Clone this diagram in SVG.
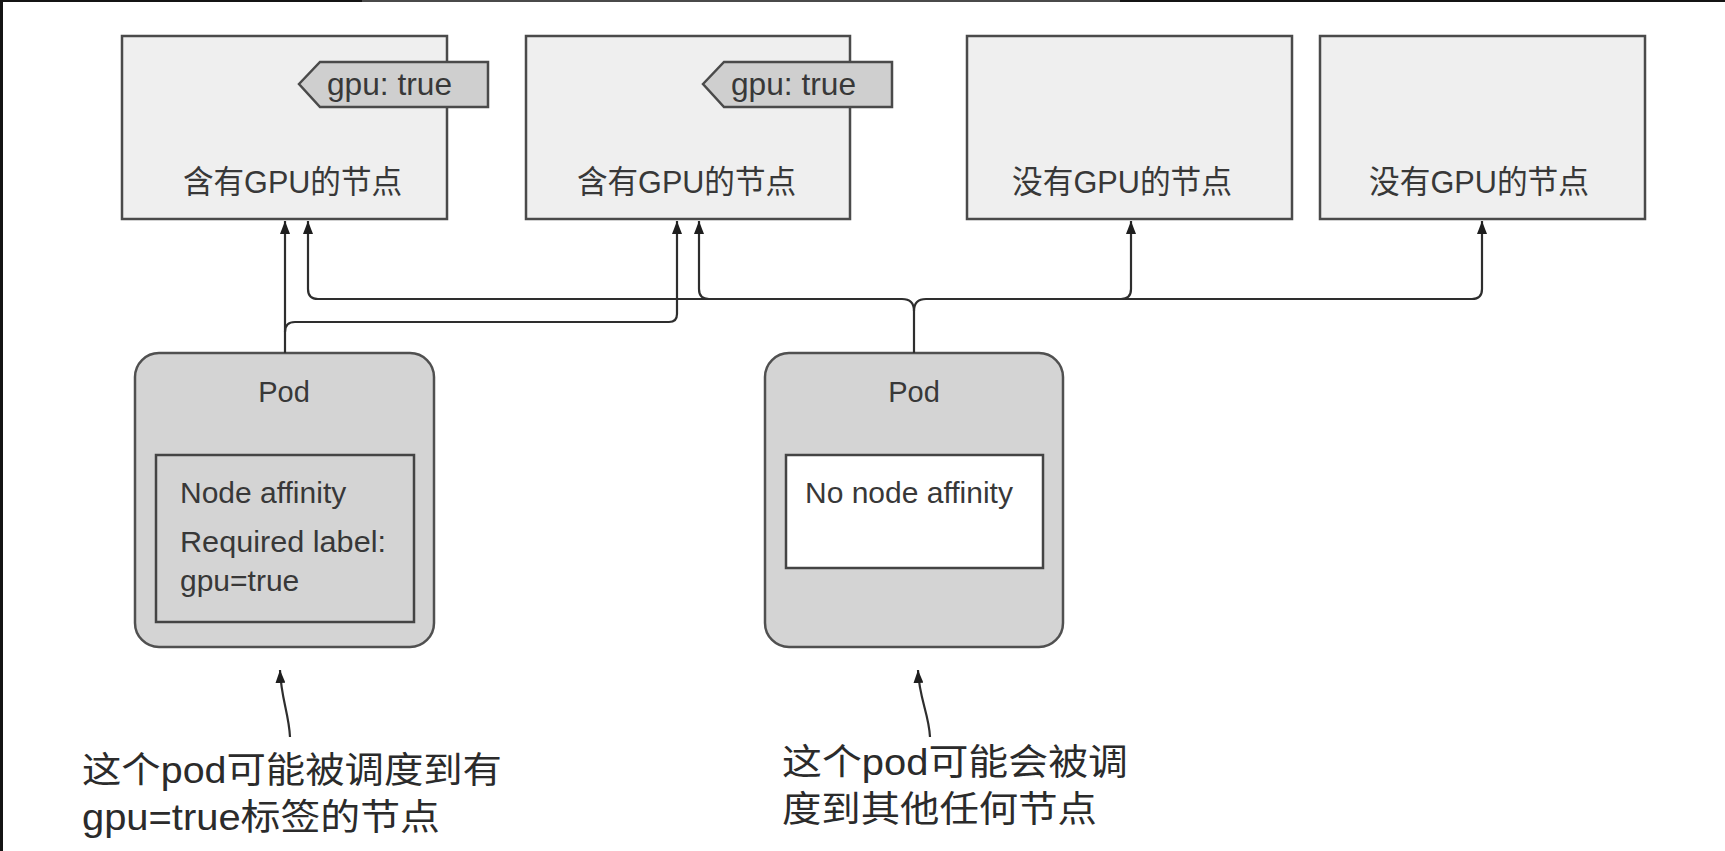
<svg xmlns="http://www.w3.org/2000/svg" width="1725" height="851" viewBox="0 0 1725 851">
<defs>
<marker id="ah" viewBox="0 0 13 10" refX="13" refY="5" markerWidth="13" markerHeight="10" markerUnits="userSpaceOnUse" orient="auto">
<path d="M0,0 L13,5 L0,10 z" fill="#1e1e1e"/>
</marker>
<style>
.node{fill:#efefef;stroke:#4a4a4a;stroke-width:2.5}
.tag{fill:#cfcfcf;stroke:#4a4a4a;stroke-width:2.5}
.pod{fill:#d4d4d4;stroke:#505050;stroke-width:2.5}
.inner{stroke:#444;stroke-width:2.5}
.t{font-family:"Liberation Sans","Noto Sans CJK SC",sans-serif;fill:#383838}
.cn{font-family:"Liberation Sans","Noto Sans CJK SC",sans-serif;fill:#2b2b2b;font-size:36px}
.conn path{fill:none;stroke:#2e2e2e;stroke-width:2.2}
</style>
</defs>
<rect width="1725" height="851" fill="#ffffff"/>
<rect x="0" y="0" width="3" height="851" fill="#141414"/>
<rect x="0" y="0" width="362" height="2" fill="#141414"/>
<rect x="362" y="0" width="758" height="2" fill="#4a4a4a"/>
<rect x="1120" y="0" width="605" height="2" fill="#141414"/>

<g id="node-gpu-1">
<rect class="node" x="122" y="36" width="325" height="183"/>
<polygon class="tag" points="299,84 320,62 488,62 488,107 320,107"/>
<text class="t" x="327" y="95" font-size="32" textLength="125" lengthAdjust="spacingAndGlyphs">gpu: true</text>
<text class="t" x="183" y="193" font-size="32" textLength="219" lengthAdjust="spacingAndGlyphs">含有GPU的节点</text>
</g>
<g id="node-gpu-2">
<rect class="node" x="526" y="36" width="324" height="183"/>
<polygon class="tag" points="703,84 724,62 892,62 892,107 724,107"/>
<text class="t" x="731" y="95" font-size="32" textLength="125" lengthAdjust="spacingAndGlyphs">gpu: true</text>
<text class="t" x="577" y="193" font-size="32" textLength="219" lengthAdjust="spacingAndGlyphs">含有GPU的节点</text>
</g>
<g id="node-nogpu-1">
<rect class="node" x="967" y="36" width="325" height="183"/>
<text class="t" x="1012" y="193" font-size="32" textLength="220" lengthAdjust="spacingAndGlyphs">没有GPU的节点</text>
</g>
<g id="node-nogpu-2">
<rect class="node" x="1320" y="36" width="325" height="183"/>
<text class="t" x="1369" y="193" font-size="32" textLength="220" lengthAdjust="spacingAndGlyphs">没有GPU的节点</text>
</g>

<g id="pod-1">
<rect class="pod" x="135" y="353" width="299" height="294" rx="24" ry="24"/>
<text class="t" x="284" y="402" font-size="29" text-anchor="middle">Pod</text>
<rect class="inner" x="156" y="455" width="258" height="167" fill="#d4d4d4"/>
<text class="t" x="180" y="503" font-size="30">Node affinity</text>
<text class="t" x="180" y="552" font-size="30" textLength="206" lengthAdjust="spacingAndGlyphs">Required label:</text>
<text class="t" x="180" y="591" font-size="30">gpu=true</text>
</g>
<g id="pod-2">
<rect class="pod" x="765" y="353" width="298" height="294" rx="24" ry="24"/>
<text class="t" x="914" y="402" font-size="29" text-anchor="middle">Pod</text>
<rect class="inner" x="786" y="455" width="257" height="113" fill="#ffffff"/>
<text class="t" x="805" y="503" font-size="30">No node affinity</text>
</g>

<g id="connectors" class="conn">
<path d="M285,353 L285,221" marker-end="url(#ah)"/>
<path d="M285,332 Q285,322 295,322 L669,322 Q677,322 677,314 L677,221" marker-end="url(#ah)"/>
<path d="M914,353 L914,311 Q914,299 902,299 L318,299 Q308,299 308,289 L308,221" marker-end="url(#ah)"/>
<path d="M914,311 Q914,299 926,299 L1472,299 Q1482,299 1482,289 L1482,221" marker-end="url(#ah)"/>
<path d="M709,299 Q699,299 699,289 L699,221" marker-end="url(#ah)"/>
<path d="M1121,299 Q1131,299 1131,289 L1131,221" marker-end="url(#ah)"/>
<path d="M290,737 C289,714 281,698 280,670" marker-end="url(#ah)"/>
<path d="M930,737 C929,714 919,698 918,670" marker-end="url(#ah)"/>
</g>

<g id="note-1">
<text class="cn" x="82" y="783" textLength="420" lengthAdjust="spacingAndGlyphs">这个pod可能被调度到有</text>
<text class="cn" x="82" y="830" textLength="358" lengthAdjust="spacingAndGlyphs">gpu=true标签的节点</text>
</g>
<g id="note-2">
<text class="cn" x="782" y="775" textLength="346" lengthAdjust="spacingAndGlyphs">这个pod可能会被调</text>
<text class="cn" x="782" y="822" textLength="315" lengthAdjust="spacingAndGlyphs">度到其他任何节点</text>
</g>
</svg>
